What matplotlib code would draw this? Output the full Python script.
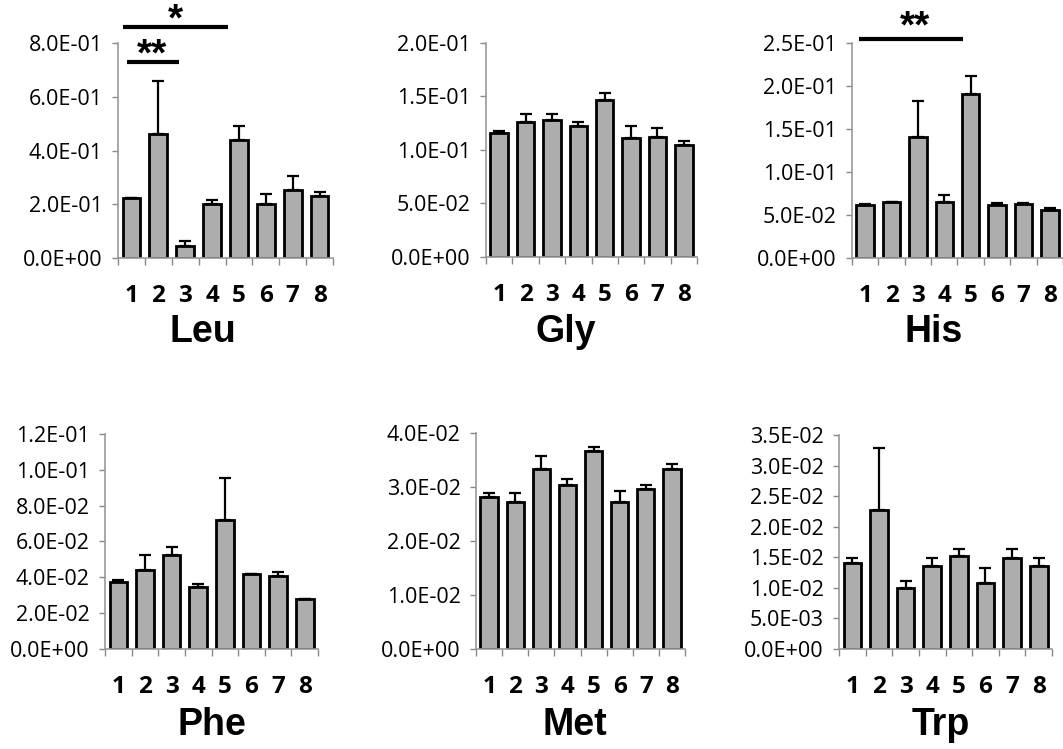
import numpy as np
import matplotlib.pyplot as plt
from matplotlib.ticker import FuncFormatter, FixedLocator

# ====== DATA ======
groups = ["1", "2", "3", "4", "5", "6", "7", "8"]

leu = [0.222, 0.460, 0.044, 0.201, 0.438, 0.200, 0.253, 0.231]
leu_err = [0.002, 0.200, 0.018, 0.015, 0.055, 0.039, 0.054, 0.015]

gly = [0.1162, 0.1262, 0.1280, 0.1222, 0.1470, 0.1112, 0.1125, 0.1050]
gly_err = [0.0020, 0.0072, 0.0058, 0.0040, 0.0062, 0.0112, 0.0078, 0.0036]

his = [0.0612, 0.0652, 0.1410, 0.0652, 0.1910, 0.0622, 0.0630, 0.0562]
his_err = [0.0018, 0.0005, 0.0410, 0.0082, 0.0202, 0.0013, 0.0005, 0.0022]

phe = [0.0373, 0.0442, 0.0522, 0.0348, 0.0721, 0.0417, 0.0408, 0.0278]
phe_err = [0.0011, 0.0080, 0.0048, 0.0012, 0.0233, 0.0002, 0.0022, 0.0003]

met = [0.0281, 0.0273, 0.0334, 0.0304, 0.0366, 0.0273, 0.0296, 0.0334]
met_err = [0.0007, 0.0015, 0.0024, 0.0011, 0.0008, 0.0020, 0.0008, 0.0009]

trp = [0.0141, 0.0227, 0.0100, 0.0135, 0.0152, 0.0108, 0.0149, 0.0135]
trp_err = [0.0008, 0.0101, 0.0011, 0.0014, 0.0011, 0.0024, 0.0014, 0.0014]

names = ["Leu", "Gly", "His", "Phe", "Met", "Trp"]
values = [leu, gly, his, phe, met, trp]
errors = [leu_err, gly_err, his_err, phe_err, met_err, trp_err]
y_max = [0.8, 0.2, 0.25, 0.12, 0.04, 0.035]
y_step = [0.2, 0.05, 0.05, 0.02, 0.01, 0.005]

# significance bars: panel, x from, x to, y, label, label x, label y
sig_panel = [0, 0, 2]
sig_x0 = [0.69, 0.83, 0.77]
sig_x1 = [4.59, 2.77, 4.70]
sig_y = [0.86, 0.729, 0.2547]
sig_text = ["*", "**", "**"]
sig_tx = [2.65, 1.75, 2.9]
sig_ty = [0.885, 0.755, 0.268]

# ====== LAYOUT ======
axes_rect = [
    [0.111, 0.6555, 0.2023, 0.2871],
    [0.4572, 0.6569, 0.1985, 0.2857],
    [0.8015, 0.6555, 0.1985, 0.2871],
    [0.0988, 0.1335, 0.2004, 0.2871],
    [0.4478, 0.1335, 0.1966, 0.2884],
    [0.7893, 0.1335, 0.2004, 0.2857],
]
title_pos = [(0.191, 0.543), (0.532, 0.543), (0.878, 0.543),
             (0.199, 0.019), (0.541, 0.019), (0.885, 0.019)]

plt.rcParams["font.family"] = "Open Sans"
fig = plt.figure(figsize=(10.63, 7.49), dpi=100)

fmt = FuncFormatter(lambda v, p: f"{v:.1E}")
x = np.arange(1, len(groups) + 1)
axes = []
for i in range(6):
    ax = fig.add_axes(axes_rect[i])
    axes.append(ax)
    ax.bar(x, values[i], width=0.66, color="#adadad", edgecolor="black",
           linewidth=2.0, zorder=2)
    ax.errorbar(x, values[i], yerr=[np.zeros(len(x)), errors[i]], fmt="none",
                ecolor="black", elinewidth=1.6, capsize=4, capthick=1.6, zorder=3)
    ax.set_xlim(0.5, 8.5)
    ax.set_ylim(0, y_max[i])
    ax.yaxis.set_major_locator(FixedLocator(np.arange(0, y_max[i] + 1e-9, y_step[i])))
    ax.yaxis.set_major_formatter(fmt)
    ax.set_xticks(x)
    ax.set_xticklabels(groups, fontweight="bold", fontsize=17.5)
    ax.xaxis.set_minor_locator(FixedLocator(np.arange(0.5, 9, 1.0)))
    ax.tick_params(axis="x", which="major", length=0, pad=19)
    ax.tick_params(axis="x", which="minor", length=5, width=1, color="#888888", direction="out")
    ax.tick_params(axis="y", which="major", length=4, width=1, color="#888888", labelsize=15.5, pad=7)
    for s in ["top", "right"]:
        ax.spines[s].set_visible(False)
    for s in ["left", "bottom"]:
        ax.spines[s].set_color("#999999")
        ax.spines[s].set_linewidth(1.2)
    fig.text(title_pos[i][0], title_pos[i][1], names[i], family="Liberation Sans",
             fontweight="bold", fontsize=27, ha="center", va="baseline")

for k in range(len(sig_panel)):
    ax = axes[sig_panel[k]]
    ax.plot([sig_x0[k], sig_x1[k]], [sig_y[k], sig_y[k]], color="black", lw=3,
            clip_on=False, solid_capstyle="butt")
    ax.text(sig_tx[k], sig_ty[k], sig_text[k], fontsize=28, fontweight="bold",
            ha="center", va="center", family="Liberation Sans")

fig.savefig("out.png", dpi=100)
